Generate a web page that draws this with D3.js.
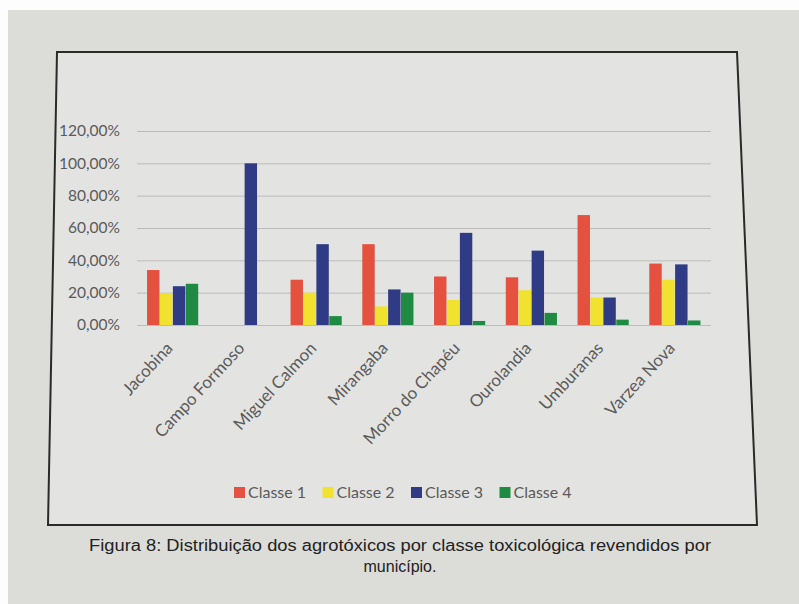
<!DOCTYPE html>
<html>
<head>
<meta charset="utf-8">
<script src="https://cdn.jsdelivr.net/npm/d3@7"></script>
<style>
  body { margin: 0; background: #fff; }
  svg { display: block; }
</style>
</head>
<body>
<div class="chart"></div>
<script>
// municipalities and the share of each toxicological class
var municipios = ['Jacobina', 'Campo Formoso', 'Miguel Calmon', 'Mirangaba',
  'Morro do Chapéu', 'Ourolandia', 'Umburanas', 'Varzea Nova'];
var classes = ['Classe 1', 'Classe 2', 'Classe 3', 'Classe 4'];
var classe1 = [0.34, 0, 0.28, 0.50, 0.30, 0.295, 0.68, 0.38];
var classe2 = [0.195, 0, 0.20, 0.115, 0.155, 0.215, 0.17, 0.28];
var classe3 = [0.24, 1.00, 0.50, 0.22, 0.57, 0.46, 0.17, 0.375];
var classe4 = [0.255, 0, 0.055, 0.20, 0.025, 0.075, 0.033, 0.028];
var yTicks = [0, 0.2, 0.4, 0.6, 0.8, 1.0, 1.2];
var colors = ['#e4513f', '#f0e22e', '#2f3b85', '#1f8a41'];

var series = [classe1, classe2, classe3, classe4];

var svg = d3.select('.chart')
  .append('svg')
    .attr('width', 799)
    .attr('height', 604);

// photographed page
svg.append('rect')
  .attr('width', 799).attr('height', 604).style('fill', '#fdfdfd');
svg.append('rect')
  .attr('x', 8).attr('y', 10).attr('width', 791).attr('height', 594)
  .style('fill', '#dcdcd9');

// chart frame (slightly in perspective in the photo)
svg.append('path')
  .attr('d', 'M57,52 L737,52 L757,525 L48,525 Z')
  .style('fill', '#e3e3e1')
  .style('stroke', '#2a2a2a')
  .style('stroke-width', 2);

var plot = { left: 137, right: 711, top: 131, bottom: 325 };

var yScale = d3.scaleLinear()
  .domain([0, 1.2])
  .range([plot.bottom, plot.top]);

var xScale = d3.scaleBand()
  .domain(municipios)
  .range([plot.left, plot.right])
  .paddingInner(0.28)
  .paddingOuter(0.14);

var xInner = d3.scaleBand()
  .domain(classes)
  .range([0, xScale.bandwidth()]);

// gridlines and y labels
var yAxis = d3.axisLeft(yScale)
  .tickValues(yTicks)
  .tickSize(-(plot.right - plot.left))
  .tickPadding(17)
  .tickFormat(function (d) { return d3.format('.2f')(d * 100).replace('.', ',') + '%'; });

var gy = svg.append('g')
  .attr('transform', `translate(${plot.left}, 0)`)
  .call(yAxis);
gy.select('.domain').remove();
gy.selectAll('line').style('stroke', '#bcbcba').style('stroke-width', 1);
gy.selectAll('text')
  .style('font-family', 'Lato, sans-serif')
  .style('font-size', '15.5px')
  .style('fill', '#5a5a5a');

// bars
var groups = svg.append('g').selectAll('g')
  .data(municipios)
  .enter().append('g')
    .attr('transform', function (d) { return `translate(${xScale(d)}, 0)`; });

groups.selectAll('rect')
  .data(function (d, i) {
    return classes.map(function (c, k) { return { c: c, k: k, v: series[k][i] }; });
  })
  .enter().append('rect')
    .attr('x', function (d) { return xInner(d.c); })
    .attr('width', xInner.bandwidth() - 0.5)
    .attr('y', function (d) { return yScale(d.v); })
    .attr('height', function (d) { return yScale(0) - yScale(d.v); })
    .style('fill', function (d) { return colors[d.k]; });

// category labels, rotated
var xAxis = d3.axisBottom(xScale).tickSize(0).tickPadding(0);
var gx = svg.append('g')
  .attr('transform', `translate(0, ${plot.bottom + 24})`)
  .call(xAxis);
gx.select('.domain').remove();
gx.selectAll('text')
  .attr('text-anchor', 'end')
  .attr('dy', 0)
  .attr('transform', 'translate(1, 0) rotate(-47)')
  .style('font-family', 'Lato, sans-serif')
  .style('font-size', '17px')
  .style('fill', '#5a5a5a');

// legend
var legend = svg.append('g').attr('transform', 'translate(234, 487)');
var item = legend.selectAll('g')
  .data(classes)
  .enter().append('g')
    .attr('transform', function (d, i) { return `translate(${i * 88.5}, 0)`; });
item.append('rect')
  .attr('width', 11).attr('height', 11)
  .style('fill', function (d, i) { return colors[i]; });
item.append('text')
  .attr('x', 14).attr('y', 11)
  .text(function (d) { return d; })
  .style('font-family', 'Lato, sans-serif')
  .style('font-size', '16px')
  .style('fill', '#5a5a5a');

// caption
var caption = ['Figura 8: Distribuição dos agrotóxicos por classe toxicológica revendidos por', 'município.'];
svg.append('text')
  .attr('x', 400).attr('y', 551)
  .attr('text-anchor', 'middle')
  .attr('textLength', 622).attr('lengthAdjust', 'spacingAndGlyphs')
  .style('font-family', '"Liberation Sans", Arial, sans-serif')
  .style('font-size', '16px')
  .style('fill', '#222')
  .text(caption[0]);
svg.append('text')
  .attr('x', 400).attr('y', 572)
  .attr('text-anchor', 'middle')
  .style('font-family', '"Liberation Sans", Arial, sans-serif')
  .style('font-size', '16px')
  .style('fill', '#222')
  .text(caption[1]);
</script>
</body>
</html>
